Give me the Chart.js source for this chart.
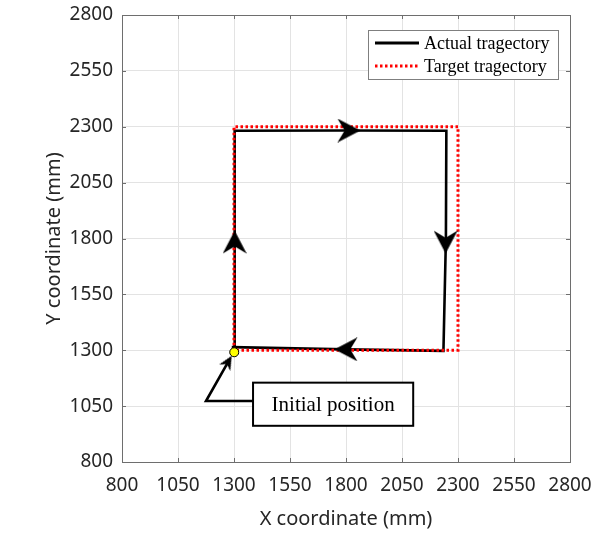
<!DOCTYPE html>
<html>
<head>
<meta charset="utf-8">
<script src="https://cdn.jsdelivr.net/npm/chart.js@4.4.1/dist/chart.umd.min.js"></script>
<style>
  body { margin: 0; background: #fff; }
  #wrap { width: 593px; height: 534px; }
</style>
</head>
<body>
<div id="wrap"><canvas id="traj-chart" width="593" height="534"></canvas></div>
<script>
// axis ticks (mm)
const tickValues = [800, 1050, 1300, 1550, 1800, 2050, 2300, 2550, 2800];
const tickLabels = ['800', '1050', '1300', '1550', '1800', '2050', '2300', '2550', '2800'];

// target square
const targetX = [1300, 1300, 2300, 2300, 1300];
const targetY = [1300, 2300, 2300, 1300, 1300];

// measured path
const actualX = [1300, 1302, 1304, 1800, 2248, 2246, 2235, 1800, 1290];
const actualY = [1292, 1800, 2282, 2283, 2282, 1800, 1297, 1304, 1314];

// direction arrows on the path (degrees, 0 = up)
const arrowX = [1303, 1813, 2245, 1800];
const arrowY = [1784, 2283, 1784, 1304];
const arrowAngle = [0, 90, 180, 270];

// start point + callout
const startX = [1301];
const startY = [1291];
const calloutX = [1385, 1175, 1274];
const calloutY = [1073, 1073, 1248];
const calloutText = 'Initial position';
const calloutBox = { x1: 1385, x2: 2100, y1: 1155, y2: 962 };

const legendLabels = ['Actual tragectory', 'Target tragectory'];

function toPoints(xs, ys) {
    return xs.map((x, i) => ({ x: x, y: ys[i] }));
}

// stealth style arrow head, pointing up
function makeHead(size, len) {
    const c = document.createElement('canvas');
    c.width = size;
    c.height = size;
    const g = c.getContext('2d');
    const top = (size - len) / 2;
    g.fillStyle = '#000';
    g.beginPath();
    g.moveTo(size / 2, top);
    g.lineTo(size, top + len);
    g.lineTo(size / 2, top + len * 0.68);
    g.lineTo(0, top + len);
    g.closePath();
    g.fill();
    return c;
}

// drop the extra room chart.js keeps for overflowing tick labels
function fixBox(s) {
    s.paddingTop = 0;
    s.paddingBottom = 0;
    s.paddingLeft = 0;
    s.paddingRight = 0;
}

const frame = {
    id: 'frame',
    afterDraw(chart) {
        const { ctx, chartArea: a, scales: { x, y } } = chart;
        ctx.save();
        // inward ticks + box
        ctx.strokeStyle = '#6e6e6e';
        ctx.lineWidth = 1;
        ctx.beginPath();
        tickValues.forEach(v => {
            const px = Math.round(x.getPixelForValue(v)) + 0.5;
            const py = Math.round(y.getPixelForValue(v)) + 0.5;
            ctx.moveTo(px, a.bottom); ctx.lineTo(px, a.bottom - 4);
            ctx.moveTo(px, a.top); ctx.lineTo(px, a.top + 4);
            ctx.moveTo(a.left, py); ctx.lineTo(a.left + 4, py);
            ctx.moveTo(a.right, py); ctx.lineTo(a.right - 4, py);
        });
        ctx.stroke();
        ctx.strokeRect(Math.round(a.left) + 0.5, Math.round(a.top) + 0.5,
            Math.round(a.right - a.left), Math.round(a.bottom - a.top));

        // callout box
        const bx1 = x.getPixelForValue(calloutBox.x1), bx2 = x.getPixelForValue(calloutBox.x2);
        const by1 = y.getPixelForValue(calloutBox.y1), by2 = y.getPixelForValue(calloutBox.y2);
        ctx.fillStyle = '#fff';
        ctx.fillRect(bx1, by1, bx2 - bx1, by2 - by1);
        ctx.strokeStyle = '#000';
        ctx.lineWidth = 2;
        ctx.strokeRect(bx1, by1, bx2 - bx1, by2 - by1);
        ctx.fillStyle = '#000';
        ctx.font = '21px "Liberation Serif", "Times New Roman", serif';
        ctx.textAlign = 'center';
        ctx.textBaseline = 'middle';
        ctx.fillText(calloutText, (bx1 + bx2) / 2, (by1 + by2) / 2 + 1);

        // legend
        const lx = 368, ly = 30, lw = 190, lh = 49;
        ctx.fillStyle = '#fff';
        ctx.fillRect(lx, ly, lw, lh);
        ctx.strokeStyle = '#7f7f7f';
        ctx.lineWidth = 1;
        ctx.strokeRect(lx + 0.5, ly + 0.5, lw, lh);
        ctx.lineWidth = 3;
        ctx.strokeStyle = '#000';
        ctx.beginPath(); ctx.moveTo(375, 43); ctx.lineTo(419, 43); ctx.stroke();
        ctx.strokeStyle = '#ff0000';
        ctx.setLineDash([2.5, 2.5]);
        ctx.beginPath(); ctx.moveTo(375, 66); ctx.lineTo(419, 66); ctx.stroke();
        ctx.setLineDash([]);
        ctx.fillStyle = '#000';
        ctx.font = '18px "Liberation Serif", "Times New Roman", serif';
        ctx.textAlign = 'left';
        ctx.textBaseline = 'middle';
        ctx.fillText(legendLabels[0], 424, 44);
        ctx.fillText(legendLabels[1], 424, 67);
        ctx.restore();
    }
};

function drawChart() {
    const bigHead = makeHead(24, 23);
    const smallHead = makeHead(13, 14);
    const ctx = document.getElementById('traj-chart').getContext('2d');
    new Chart(ctx, {
        type: 'scatter',
        data: {
            datasets: [
                {
                    label: 'start',
                    data: toPoints(startX, startY),
                    pointRadius: 4.5,
                    pointBackgroundColor: '#ffff00',
                    pointBorderColor: '#000',
                    pointBorderWidth: 1,
                    order: 0
                },
                {
                    label: 'arrows',
                    data: toPoints(arrowX, arrowY),
                    pointStyle: bigHead,
                    pointRotation: arrowAngle,
                    order: 1
                },
                {
                    label: legendLabels[1],
                    data: toPoints(targetX, targetY),
                    showLine: true,
                    borderColor: '#ff0000',
                    borderWidth: 3,
                    borderDash: [2.5, 2.5],
                    pointRadius: 0,
                    order: 2
                },
                {
                    label: legendLabels[0],
                    data: toPoints(actualX, actualY),
                    showLine: true,
                    borderColor: '#000',
                    borderWidth: 2.6,
                    pointRadius: 0,
                    order: 3
                },
                {
                    label: 'callout',
                    data: toPoints(calloutX, calloutY),
                    showLine: true,
                    borderColor: '#000',
                    borderWidth: 2.6,
                    pointRadius: 0,
                    order: 4
                },
                {
                    label: 'callout head',
                    data: toPoints(calloutX.slice(2), calloutY.slice(2)),
                    pointStyle: smallHead,
                    pointRotation: 30,
                    order: 4
                }
            ]
        },
        options: {
            responsive: false,
            animation: false,
            layout: { padding: { left: 0, top: 15, right: 23, bottom: 0 } },
            plugins: { legend: { display: false }, tooltip: { enabled: false } },
            scales: {
                x: {
                    type: 'linear',
                    min: 800,
                    max: 2800,
                    afterBuildTicks: s => { s.ticks = tickValues.map(v => ({ value: v })); },
                    afterFit: s => { s.height = 72; fixBox(s); },
                    grid: { color: '#e3e3e3', drawTicks: false },
                    border: { display: false },
                    ticks: {
                        padding: 12,
                        color: '#262626',
                        font: { family: 'Noto Sans', size: 19 },
                        callback: (v, i) => tickLabels[i]
                    },
                    title: {
                        display: true,
                        text: 'X coordinate (mm)',
                        color: '#262626',
                        font: { family: 'Noto Sans', size: 20 },
                        padding: { top: 0, bottom: 3 }
                    }
                },
                y: {
                    type: 'linear',
                    min: 800,
                    max: 2800,
                    afterBuildTicks: s => { s.ticks = tickValues.map(v => ({ value: v })); },
                    afterFit: s => { s.width = 122; fixBox(s); },
                    grid: { color: '#e3e3e3', drawTicks: false },
                    border: { display: false },
                    ticks: {
                        padding: 9,
                        color: '#262626',
                        font: { family: 'Noto Sans', size: 19 },
                        callback: (v, i) => tickLabels[i]
                    },
                    title: {
                        display: true,
                        text: 'Y coordinate (mm)',
                        color: '#262626',
                        font: { family: 'Noto Sans', size: 20 },
                        padding: { top: 42, bottom: 0 }
                    }
                }
            }
        },
        plugins: [frame]
    });
}

Promise.all([
    document.fonts.load('21px "Liberation Serif"'),
    document.fonts.load('19px "Noto Sans"')
]).then(drawChart, drawChart);
</script>
</body>
</html>
